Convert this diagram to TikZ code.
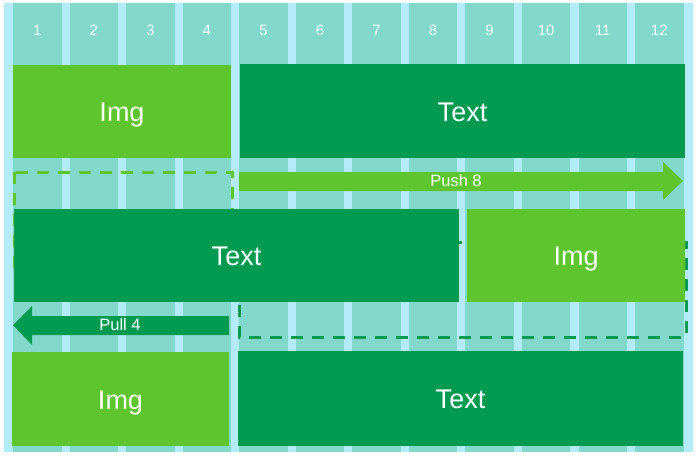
\documentclass[tikz,border=0pt]{standalone}
\usepackage{fontspec}
\setmainfont{Liberation Sans}
\usepackage{xcolor}
\usepackage{tikz}
\definecolor{gutterblue}{RGB}{179,236,248}
\definecolor{colteal}{RGB}{131,216,204}
\definecolor{imggreen}{RGB}{94,197,46}
\definecolor{textgreen}{RGB}{0,154,80}

\begin{document}
\begin{tikzpicture}[x=1pt,y=-1pt,
    boxlabel/.style={text=white,text depth=0pt,yshift=-1pt,
        font=\fontsize{27}{30}\selectfont},
    arrowlabel/.style={text=white,text depth=0pt,
        font=\fontsize{16.5}{19}\selectfont},
    collabel/.style={text=white,font=\fontsize{15}{18}\selectfont},
    oldspot/.style={line width=3pt,dash pattern=on 12pt off 9pt}]
    \useasboundingbox (0,0) rectangle (698,459);
    \begin{scope} % Grid of 12 columns
        \fill[gutterblue] (4,3) rectangle (693,452);
        \foreach \i in {1,...,12} {
            \fill[colteal] ({13+(\i-1)*56.55},3) rectangle ++(48.5,449);
            \node[collabel] (col\i) at ({37.25+(\i-1)*56.55},30.5) {\i};
        }
    \end{scope}
    \begin{scope} % Old places (dashed)
        \draw[oldspot, imggreen] (14.3,172.3) rectangle (232,266);
        \draw[oldspot, textgreen] (239,242) rectangle (686,337);
    \end{scope}
    \begin{scope} % Row 1
        \fill[imggreen] (13,65) rectangle 
            node[boxlabel] (img1) {Img} (231,158);
        \fill[textgreen] (240,64) rectangle 
            node[boxlabel] (text1) {Text} (685,158);
    \end{scope}
    \begin{scope} % Row 2, pushed and pulled
        \fill[textgreen] (14,209) rectangle 
            node[boxlabel] (text2) {Text} (459,302);
        \fill[imggreen] (467,209) rectangle 
            node[boxlabel] (img2) {Img} (685,302);
    \end{scope}
    \begin{scope} % Row 3
        \fill[imggreen] (12,352) rectangle 
            node[boxlabel] (img3) {Img} (229,446);
        \fill[textgreen] (238,351) rectangle 
            node[boxlabel] (text3) {Text} (683,446);
    \end{scope}
    \begin{scope} % Arrows
        \fill[imggreen] (239,172) -- (663,172) -- (663,162) -- (683,181) 
            -- (663,200) -- (663,191) -- (239,191) -- cycle;
        \node[arrowlabel] (push) at (456,180.7) {Push 8};
        \fill[textgreen] (229,316) -- (32,316) -- (32,306) -- (13,325) 
            -- (32,345) -- (32,335) -- (229,335) -- cycle;
        \node[arrowlabel] (pull) at (120,325) {Pull 4};
    \end{scope}
\end{tikzpicture}
\end{document}
